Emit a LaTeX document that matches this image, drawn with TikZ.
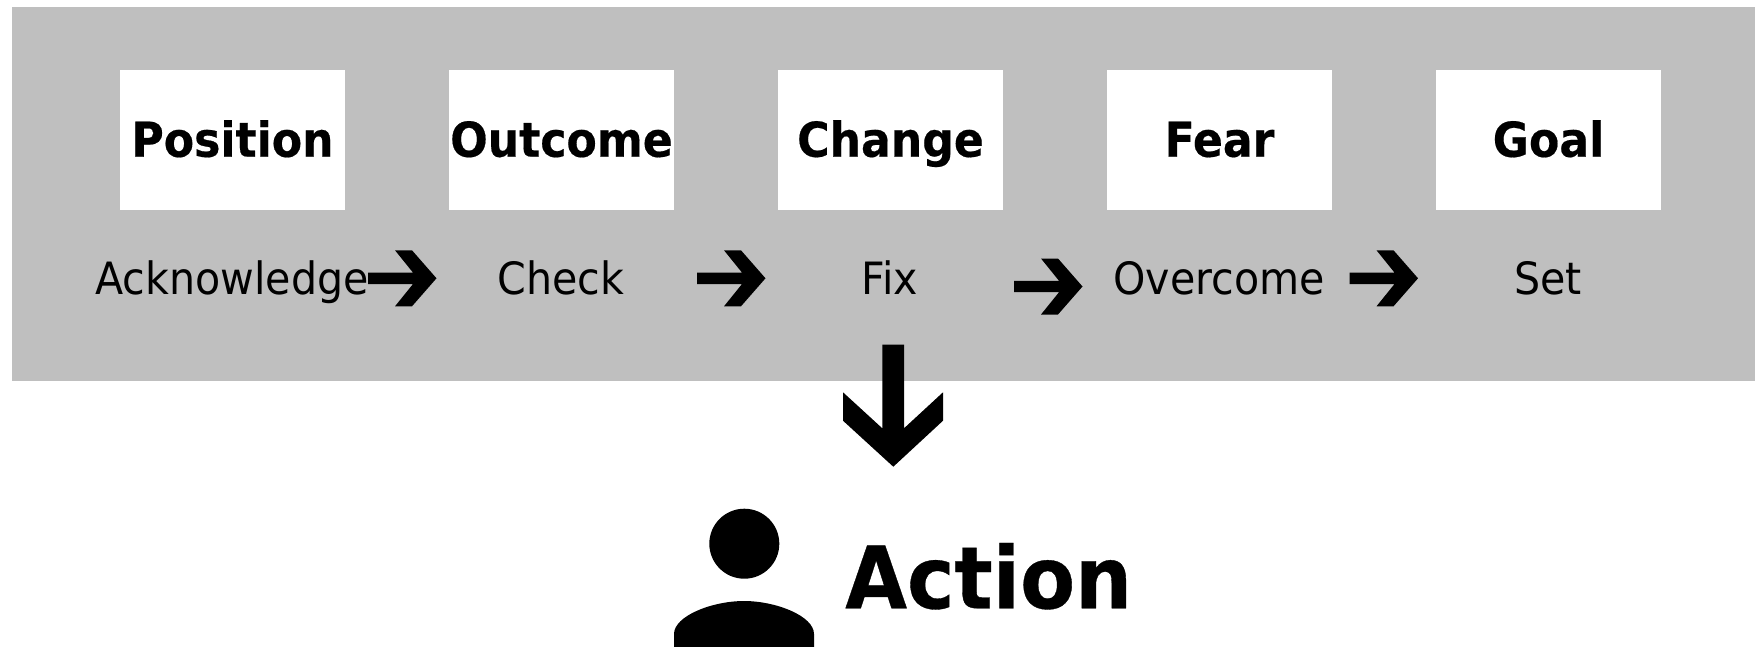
\documentclass[tikz,border=0pt]{standalone}
\usepackage{fontspec}
\setmainfont{DejaVu Sans}
\newfontfamily\regfont[FakeStretch=0.925]{DejaVu Sans}
\newfontfamily\boldfont[FakeStretch=0.92,FakeBold=0.4]{DejaVu Sans Bold}
\newfontfamily\bigboldfont[FakeStretch=0.93,FakeBold=0.4]{DejaVu Sans Bold}
\tikzset{
  panel/.style={fill=panelgray,draw=none},
  titlebox/.style={fill=white,draw=none,minimum width=225pt,minimum height=140pt,inner sep=0pt,text height=40pt,text depth=6.6pt,font=\boldfont\fontsize{48}{48}\selectfont},
  sublabel/.style={inner sep=0pt,anchor=base,font=\regfont\fontsize{44.5}{44.5}\selectfont},
  bigtext/.style={inner sep=0pt,anchor=base west,font=\bigboldfont\fontsize{86}{86}\selectfont},
  blockarrow/.pic={
    \fill[black] (0,-5.7) -- (45,-5.7) -- (27,-28) -- (44,-28) -- (68.5,0) -- (44,28) -- (27,28) -- (45,5.7) -- (0,5.7) -- cycle;
  }
}
\definecolor{panelgray}{HTML}{BFBFBF}
\begin{document}
\begin{tikzpicture}[x=1pt,y=-1pt]
\useasboundingbox (0,0) rectangle (1755,646);
\begin{scope}
\clip (0,0) rectangle (1755,646);
\fill[panel] (12,7) rectangle (1760,381);

\node[titlebox] (position) at (232.5,140) {Position};
\node[titlebox] (outcome) at (561.5,140) {Outcome};
\node[titlebox] (change) at (890.5,140) {Change};
\node[titlebox] (fear) at (1219.5,140) {Fear};
\node[titlebox] (goal) at (1548.5,140) {Goal};

\node[sublabel] (acknowledge) at (232,294) {Acknowledge};
\node[sublabel] (check) at (561,294) {Check};
\node[sublabel] (fix) at (890,294) {Fix};
\node[sublabel] (overcome) at (1219,294) {Overcome};
\node[sublabel] (set) at (1548,294) {Set};

\coordinate (a1) at (368,278.3);
\coordinate (a2) at (697,278.3);
\coordinate (a3) at (1014,286.5);
\coordinate (a4) at (1349.5,278.3);
\pic at (a1) {blockarrow};
\pic at (a2) {blockarrow};
\pic at (a3) {blockarrow};
\pic at (a4) {blockarrow};

\fill[black] (882.3,344.7) -- (904,344.7) -- (904,428.3) -- (943,392.3) -- (943,420.7) -- (893.3,466.7) -- (843,420.7) -- (843,392.3) -- (882.3,428.3) -- cycle;

\fill[black] (744.3,543.7) circle[radius=35];
\fill[black] (674,650) -- (674,634) .. controls (674,616) and (712,601) .. (744,601) .. controls (776,601) and (814,616) .. (814,634) -- (814,650) -- cycle;

\node[bigtext] (action) at (845,608.3) {Action};
\end{scope}
\end{tikzpicture}
\end{document}
